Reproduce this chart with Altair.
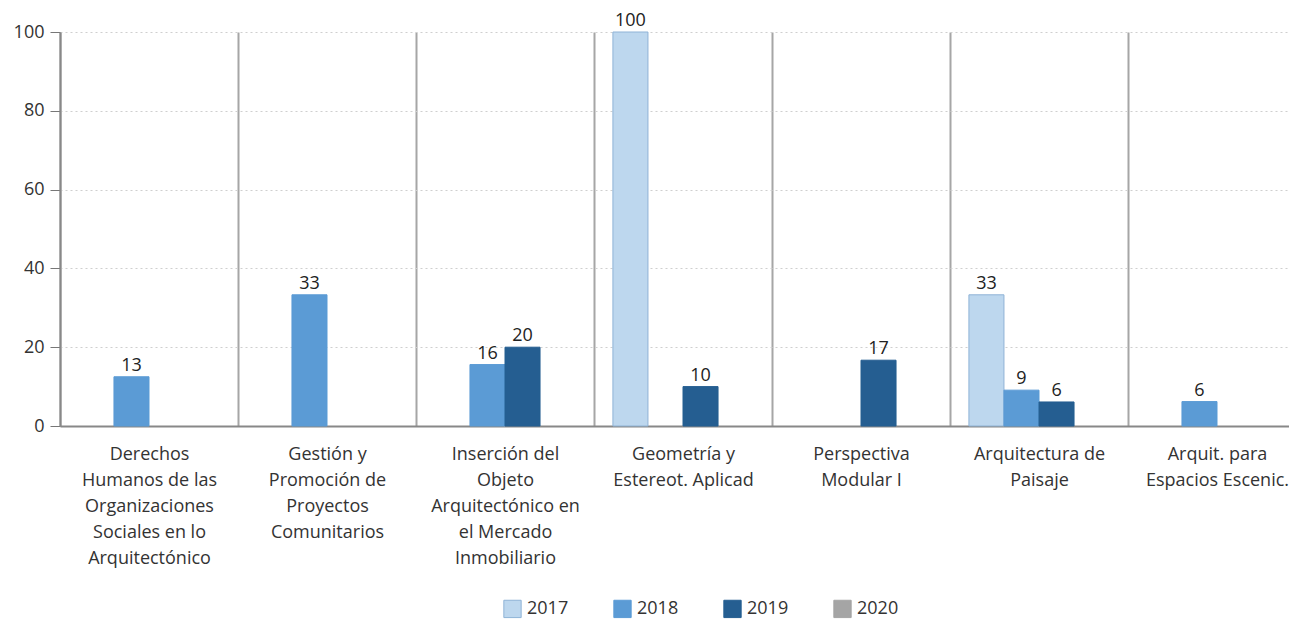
import altair as alt
import pandas as pd

categories = [
    "Derechos|Humanos de las|Organizaciones|Sociales en lo|Arquitectónico",
    "Gestión y|Promoción de|Proyectos|Comunitarios",
    "Inserción del|Objeto|Arquitectónico en|el Mercado|Inmobiliario",
    "Geometría y|Estereot. Aplicad",
    "Perspectiva|Modular I",
    "Arquitectura de|Paisaje",
    "Arquit. para|Espacios Escenic.",
]
years = ["2017", "2018", "2019", "2020"]

# (category index, year, value)
bar_cat = [0, 1, 2, 2, 3, 3, 4, 5, 5, 5, 6]
bar_year = ["2018", "2018", "2018", "2019", "2017", "2019", "2019", "2017", "2018", "2019", "2018"]
bar_value = [12.5, 33.3, 15.6, 20.0, 100.0, 10.0, 16.7, 33.3, 9.1, 6.1, 6.2]

fill_colors = ["#bdd7ee", "#5b9bd5", "#255e91", "#a5a5a5"]
stroke_colors = ["#8fb3d6", "#5b9bd5", "#255e91", "#a5a5a5"]

df = pd.DataFrame({
    "cat": [categories[i] for i in bar_cat],
    "year": bar_year,
    "value": bar_value,
})

FONT = "Open Sans"

x = alt.X("cat:N", sort=categories, scale=alt.Scale(domain=categories, range=[0, 1246], paddingInner=0, paddingOuter=0),
          axis=alt.Axis(title=None, labelAngle=0, labelExpr="split(datum.label, '|')", labelBaseline="top",
                        labelLineHeight=26, labelPadding=19, labelFont=FONT, labelFontSize=18, labelColor="#333333",
                        labelLimit=0, ticks=False, domain=True, domainColor="#888888", domainWidth=2,
                        grid=True, tickBand="extent", gridColor="#a6a6a6", gridWidth=2))
xo = alt.XOffset("year:N", scale=alt.Scale(domain=years, paddingOuter=0.54, paddingInner=0))
y = alt.Y("value:Q", scale=alt.Scale(domain=[0, 100]),
          axis=alt.Axis(title=None, values=[0, 20, 40, 60, 80, 100], tickSize=10, tickColor="#777777",
                        labelFont=FONT, labelFontSize=18, labelColor="#333333", labelPadding=6,
                        domainColor="#888888", domainWidth=2, gridColor="#cfcfcf", gridDash=[2, 3], gridWidth=1))

bars = alt.Chart(df).mark_bar(strokeWidth=1).encode(
    x=x, xOffset=xo, y=y,
    fill=alt.Fill("year:N", scale=alt.Scale(domain=years, range=fill_colors),
                  legend=alt.Legend(title=None, orient="none", direction="horizontal", legendX=443, legendY=567,
                                    symbolType="square", symbolSize=300, symbolStrokeWidth=1,
                                    labelFont=FONT, labelFontSize=18, labelColor="#333333",
                                    columnPadding=42, labelOffset=5, columns=4)),
    stroke=alt.Stroke("year:N", scale=alt.Scale(domain=years, range=stroke_colors), legend=None),
)

labels = alt.Chart(df).mark_text(dy=-11, font=FONT, fontSize=18, color="#222222").encode(
    x=x, xOffset=xo, y=y, text=alt.Text("value:Q", format=".0f")
)

chart = (bars + labels).properties(
    width=1229, height=394,
    autosize=alt.AutoSizeParams(type="none"),
    padding={"left": 52, "top": 24, "right": 0, "bottom": 194},
).configure_view(stroke=None).configure_axis(labelFontWeight="normal")

chart.save("out.html", embed_options={"renderer": "svg", "actions": False})
